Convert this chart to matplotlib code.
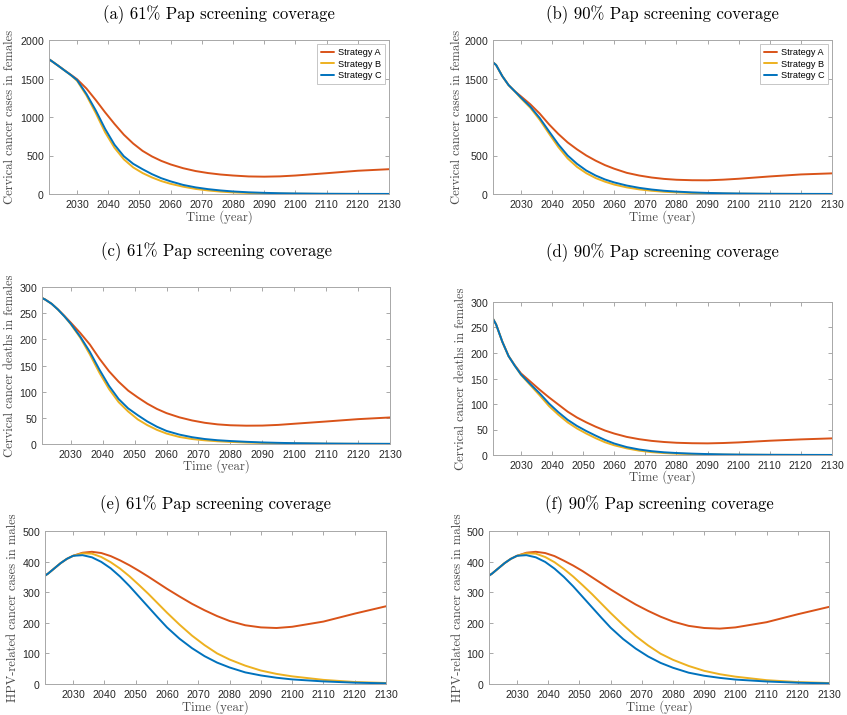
import matplotlib
matplotlib.use("Agg")
import matplotlib.pyplot as plt

W, H = 847, 715

# ---------------- data ----------------
strategies = ["Strategy A", "Strategy B", "Strategy C"]
colors = ["#D95319", "#EDB120", "#0072BD"]

years = [2021, 2022, 2024, 2026, 2028, 2030, 2033, 2036, 2039, 2042, 2045, 2048,
         2051, 2054, 2057, 2060, 2064, 2068, 2072, 2076, 2080, 2085, 2090, 2095,
         2100, 2110, 2120, 2130]

# (a) cervical cancer cases in females, 61% Pap screening coverage
a_A = [1750, 1722, 1665, 1606, 1549, 1490, 1370, 1220, 1060, 910, 770, 655,
       560, 488, 430, 384, 335, 298, 272, 253, 240, 228, 225, 229,
       240, 270, 302, 322]
a_B = [1750, 1722, 1664, 1604, 1543, 1470, 1280, 1050, 800, 600, 450, 345,
       272, 215, 168, 132, 95, 66, 46, 31, 21, 13, 8, 5,
       3, 1.2, 0.5, 0.3]
a_C = [1750, 1722, 1664, 1604, 1545, 1480, 1300, 1085, 845, 640, 490, 392,
       322, 258, 205, 164, 118, 86, 63, 46, 33, 22, 15, 10,
       7, 3, 1.5, 1]

# (b) cervical cancer cases in females, 90% Pap screening coverage
b_A = [1710, 1675, 1530, 1415, 1335, 1268, 1165, 1045, 905, 780, 670, 580,
       500, 433, 375, 328, 275, 240, 214, 196, 185, 179, 178, 186,
       198, 228, 254, 268]
b_B = [1710, 1675, 1530, 1415, 1333, 1242, 1120, 965, 785, 610, 462, 352,
       270, 207, 160, 122, 86, 60, 42, 29, 21, 13, 8.5, 5.5,
       3.5, 1.5, 0.6, 0.3]
b_C = [1710, 1675, 1530, 1415, 1334, 1252, 1135, 988, 815, 645, 500, 392,
       305, 240, 189, 150, 110, 80, 58, 42, 31, 21, 14, 9.5,
       6.5, 3, 1.5, 0.8]

# (c) cervical cancer deaths in females, 61% Pap screening coverage
c_A = [279, 276, 268, 257, 245, 232, 212, 190, 163, 139, 119, 102,
       89, 77, 67, 59, 51, 45, 40.5, 37.5, 35.8, 35, 35.2, 36.5,
       38.7, 43, 47.5, 50.7]
c_B = [279, 276, 268, 257, 244, 229, 203, 171, 136, 105, 80, 62,
       47, 36, 27, 20, 13.5, 9.5, 7, 5.2, 4, 2.8, 2, 1.4,
       1, 0.5, 0.25, 0.15]
c_C = [279, 276, 268, 257, 244, 230, 205, 176, 142, 111, 86, 68,
       55, 43, 33, 25, 18, 13, 9.5, 7.2, 5.7, 4.2, 3, 2.2,
       1.6, 0.9, 0.5, 0.3]

# (d) cervical cancer deaths in females, 90% Pap screening coverage
d_A = [267, 256, 222, 194, 176, 160, 144, 128, 113, 99, 85, 73.5,
       64, 55.5, 48, 42, 35.5, 31, 27.7, 25.5, 24, 23.1, 22.8, 23.5,
       24.7, 28, 30.6, 32.6]
d_B = [267, 256, 222, 194, 175, 157, 137, 117, 96, 79, 64, 52,
       42, 33, 25, 19, 13, 8.5, 5.6, 3.8, 2.6, 1.7, 1.1, 0.7,
       0.5, 0.25, 0.12, 0.06]
d_C = [267, 256, 222, 194, 175, 158, 139, 121, 101, 84, 69, 57,
       47, 38, 29.5, 22.5, 15.5, 10.8, 7.5, 5.3, 3.9, 2.7, 1.8, 1.2,
       0.8, 0.4, 0.2, 0.1]

# (e) HPV-related cancer cases in males, 61% Pap screening coverage
e_A = [354, 361, 378, 395, 409, 419, 429, 432, 428, 418, 404, 388,
       370, 351, 331, 311, 286, 262, 241, 222, 206, 192, 185, 183,
       187, 204, 230, 254]
e_B = [354, 361, 378, 395, 409, 419, 427, 426, 415, 398, 377, 352,
       324, 295, 264, 233, 194, 158, 127, 100, 80, 60, 44, 33,
       25, 13.5, 6.5, 3.3]
e_C = [354, 361, 378, 395, 409, 419, 421, 414, 399, 378, 351, 320,
       286, 252, 218, 185, 148, 117, 91, 70, 54, 38, 28, 20.5,
       15, 8.5, 4.3, 2.2]

# (f) HPV-related cancer cases in males, 90% Pap screening coverage
f_A = [354, 361, 378, 395, 409, 419, 429, 432, 428, 418, 403, 387,
       369, 349, 329, 309, 284, 260, 239, 220, 204, 190, 183, 181,
       185, 202, 228, 252]
f_B = [354, 361, 378, 395, 409, 419, 427, 426, 415, 398, 376, 351,
       323, 294, 263, 232, 193, 157, 126, 99, 79, 59, 43, 32,
       24, 12.5, 6.3, 3.2]
f_C = [354, 361, 378, 395, 409, 419, 421, 414, 399, 377, 350, 319,
       285, 251, 217, 184, 147, 116, 90, 69, 53, 37, 27, 20,
       14.5, 8.2, 4.2, 2.1]

titles = ["(a) 61% Pap screening coverage", "(b) 90% Pap screening coverage",
          "(c) 61% Pap screening coverage", "(d) 90% Pap screening coverage",
          "(e) 61% Pap screening coverage", "(f) 90% Pap screening coverage"]
ylabels = ["Cervical cancer cases in females", "Cervical cancer cases in females",
           "Cervical cancer deaths in females", "Cervical cancer deaths in females",
           "HPV-related cancer cases in males", "HPV-related cancer cases in males"]
xlabel = "Time (year)"
xticks = list(range(2030, 2131, 10))
yticks_cases = [0, 500, 1000, 1500, 2000]
yticks_deaths = [0, 50, 100, 150, 200, 250, 300]
yticks_males = [0, 100, 200, 300, 400, 500]

# ---------------- layout ----------------
SERIF = ["cmr10", "DejaVu Serif"]
SANS = ["Liberation Sans", "DejaVu Sans"]
plt.rcParams["axes.formatter.use_mathtext"] = True

fig = plt.figure(figsize=(W / 100, H / 100), dpi=100)
fig.patch.set_facecolor("white")

# pixel boxes: left, right, top, bottom ; title y ; ylabel x ; xlabel y
boxes = [
    (49, 389, 40, 194, 15, 10, 217),
    (493, 832, 40, 194, 15, 457, 217),
    (42, 390, 287, 444, 252, 10, 466),
    (493, 832, 302, 455, 253, 461, 477),
    (45, 386, 531, 684, 505, 13, 707),
    (489, 829, 531, 684, 505, 458, 707),
]

panels = [
    ([a_A, a_B, a_C], yticks_cases, True),
    ([b_A, b_B, b_C], yticks_cases, True),
    ([c_A, c_B, c_C], yticks_deaths, False),
    ([d_A, d_B, d_C], yticks_deaths, False),
    ([e_A, e_B, e_C], yticks_males, False),
    ([f_A, f_B, f_C], yticks_males, False),
]

for i, ((series, yt, leg), (l, r, t, b, ty, ylx, xly)) in enumerate(zip(panels, boxes)):
    ax = fig.add_axes([l / W, 1 - b / H, (r - l) / W, (b - t) / H])
    for s, c, name in zip(series, colors, strategies):
        ax.plot(years, s, color=c, lw=1.4, label=name,
                solid_capstyle="round", solid_joinstyle="round")
    ax.set_xlim(2021, 2130)
    ax.set_ylim(yt[0], yt[-1])
    ax.set_xticks(xticks)
    ax.set_yticks(yt)
    ax.tick_params(direction="in", length=3, width=0.6, color="#9a9a9a",
                   top=True, right=True, labelsize=7.6, labelcolor="#262626", pad=3)
    for lab in ax.get_xticklabels() + ax.get_yticklabels():
        lab.set_family(SANS)
    for sp in ax.spines.values():
        sp.set_color("#a8a8a8")
        sp.set_linewidth(0.7)
    fig.text((l + r) / 2 / W, 1 - ty / H, titles[i], ha="center", va="center",
             family=SERIF, fontsize=12, color="black")
    fig.text(ylx / W, 1 - (t + b) / 2 / H, ylabels[i], ha="center", va="center",
             rotation=90, family=SERIF, fontsize=9, color="#4a4a4a")
    fig.text((l + r) / 2 / W, 1 - xly / H, xlabel, ha="center", va="center",
             family=SERIF, fontsize=9.2, color="#4a4a4a")
    if leg:
        lg = ax.legend(loc="upper right", prop={"family": SANS, "size": 6.6},
                       fancybox=False, framealpha=1, edgecolor="#bdbdbd",
                       handlelength=1.5, handletextpad=0.35, borderpad=0.4,
                       labelspacing=0.3, borderaxespad=0.45)
        lg.get_frame().set_linewidth(0.6)

fig.savefig("out.png", dpi=100)
